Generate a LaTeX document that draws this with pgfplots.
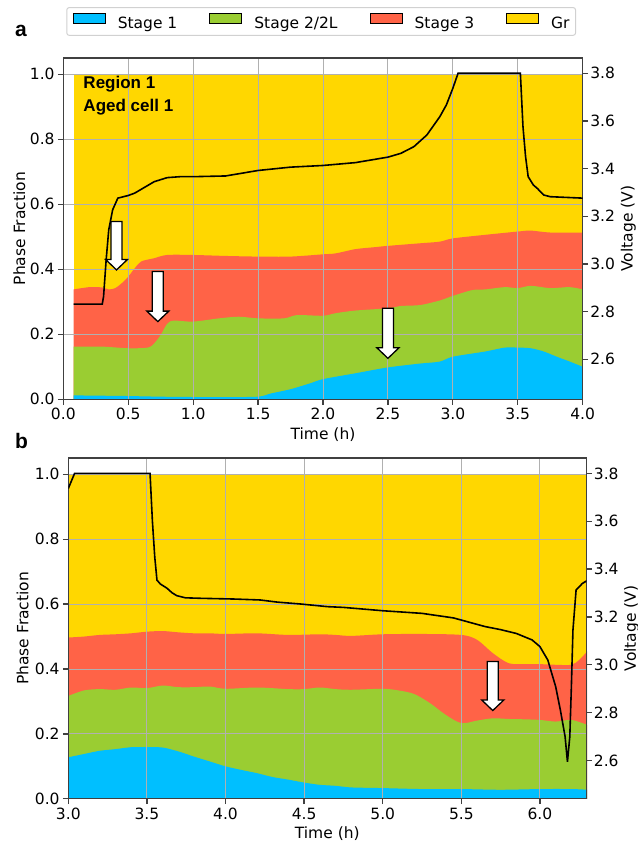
\documentclass[border=0pt]{standalone}
\usepackage{fontspec}
\setmainfont{DejaVu Sans}
\newfontfamily\headfont{Liberation Sans}
\usepackage{pgfplots}
\pgfplotsset{compat=1.18}
\usepackage{pgfplotstable}

\definecolor{cSone}{HTML}{00BFFF}
\definecolor{cStwo}{HTML}{9ACD32}
\definecolor{cSthree}{HTML}{FF6347}
\definecolor{cGr}{HTML}{FFD700}
\definecolor{spine}{HTML}{404040}
\definecolor{gridc}{HTML}{B0B0B0}

\newcommand\mpl{\fontsize{15.5bp}{18.6bp}\selectfont}

% ---------- (a) cumulative phase-fraction boundaries ----------
\pgfplotstableread{
t f
0.08 0.012
0.30 0.011
0.50 0.010
0.75 0.008
1.00 0.007
1.25 0.007
1.50 0.008
1.60 0.018
1.75 0.031
1.90 0.049
2.00 0.062
2.25 0.080
2.50 0.098
2.75 0.110
2.90 0.116
3.00 0.131
3.25 0.147
3.40 0.159
3.50 0.159
3.60 0.157
3.70 0.147
3.80 0.131
3.90 0.116
4.00 0.100
}\sOneA
\pgfplotstableread{
t f
0.08 0.162
0.30 0.162
0.50 0.157
0.65 0.159
0.70 0.172
0.75 0.198
0.80 0.232
0.85 0.242
1.00 0.239
1.20 0.249
1.35 0.254
1.50 0.249
1.70 0.249
1.80 0.259
2.00 0.257
2.10 0.265
2.25 0.273
2.50 0.280
2.60 0.287
2.75 0.290
2.90 0.304
3.00 0.318
3.15 0.336
3.25 0.338
3.40 0.345
3.50 0.342
3.60 0.349
3.75 0.342
3.90 0.345
4.00 0.338
}\sTwoA
\pgfplotstableread{
t f
0.08 0.338
0.20 0.345
0.30 0.344
0.35 0.338
0.40 0.342
0.45 0.357
0.50 0.377
0.55 0.403
0.60 0.424
0.70 0.434
0.80 0.444
1.00 0.444
1.25 0.441
1.50 0.439
1.75 0.439
2.00 0.446
2.10 0.449
2.25 0.462
2.40 0.468
2.50 0.472
2.75 0.480
2.90 0.485
3.00 0.495
3.25 0.506
3.50 0.516
3.60 0.519
3.75 0.513
4.00 0.513
}\sThreeA
\pgfplotstableread{
t v
0.08 2.831
0.30 2.831
0.31 2.863
0.33 3.017
0.35 3.143
0.38 3.227
0.42 3.276
0.50 3.287
0.55 3.297
0.60 3.313
0.70 3.345
0.80 3.362
0.90 3.366
1.00 3.366
1.25 3.369
1.50 3.392
1.75 3.406
2.00 3.413
2.25 3.425
2.50 3.448
2.60 3.464
2.70 3.492
2.80 3.541
2.90 3.618
2.95 3.667
3.00 3.737
3.04 3.800
3.52 3.800
3.54 3.576
3.56 3.450
3.58 3.366
3.62 3.331
3.65 3.317
3.70 3.289
3.75 3.282
4.00 3.276
}\voltA

% ---------- (b) cumulative phase-fraction boundaries ----------
\pgfplotstableread{
t f
3.00 0.128
3.10 0.138
3.20 0.148
3.30 0.153
3.40 0.159
3.50 0.159
3.60 0.158
3.70 0.146
3.80 0.130
3.90 0.115
4.00 0.100
4.10 0.089
4.20 0.079
4.30 0.067
4.40 0.059
4.50 0.050
4.60 0.043
4.70 0.040
4.80 0.035
5.00 0.033
5.25 0.030
5.50 0.030
5.70 0.028
5.80 0.028
6.00 0.030
6.20 0.030
6.30 0.028
}\sOneB
\pgfplotstableread{
t f
3.00 0.317
3.10 0.334
3.20 0.338
3.30 0.336
3.40 0.343
3.50 0.341
3.60 0.349
3.70 0.344
3.80 0.344
3.90 0.346
4.00 0.339
4.20 0.343
4.40 0.338
4.50 0.338
4.60 0.343
4.70 0.338
4.80 0.336
5.00 0.339
5.10 0.334
5.20 0.323
5.30 0.295
5.40 0.259
5.50 0.233
5.60 0.241
5.70 0.248
5.80 0.246
5.90 0.245
6.00 0.243
6.10 0.238
6.20 0.243
6.30 0.228
}\sTwoB
\pgfplotstableread{
t f
3.00 0.497
3.10 0.500
3.20 0.505
3.30 0.507
3.40 0.510
3.50 0.515
3.60 0.517
3.70 0.513
3.80 0.510
3.90 0.510
4.00 0.508
4.20 0.510
4.40 0.505
4.60 0.507
4.70 0.505
4.80 0.502
5.00 0.507
5.25 0.508
5.50 0.505
5.60 0.490
5.70 0.449
5.80 0.418
5.90 0.415
6.00 0.415
6.10 0.413
6.20 0.413
6.25 0.428
6.30 0.454
}\sThreeB
\pgfplotstableread{
t v
3.000 3.737
3.040 3.800
3.520 3.800
3.535 3.600
3.550 3.450
3.564 3.354
3.585 3.338
3.628 3.320
3.660 3.301
3.690 3.289
3.745 3.280
3.840 3.278
4.050 3.275
4.220 3.271
4.330 3.262
4.480 3.254
4.650 3.243
4.750 3.240
5.000 3.226
5.250 3.215
5.450 3.196
5.550 3.178
5.650 3.160
5.750 3.147
5.850 3.131
5.950 3.104
6.000 3.076
6.050 3.020
6.100 2.909
6.130 2.811
6.160 2.700
6.175 2.595
6.190 2.700
6.200 2.909
6.210 3.145
6.230 3.313
6.270 3.340
6.300 3.352
}\voltB

% white block arrow pointing down to (x, y) in axis units; #3 = shaft length
\newcommand\blockarrow[3]{%
  \draw[fill=white, draw=black, line width=1.3bp, line join=miter]
    (axis cs:#1,#2) -- ++(11bp,10.5bp) -- ++(-5.5bp,0bp) -- ++(0bp,#3)
    -- ++(-11bp,0bp) -- ++(0bp,-#3) -- ++(-5.5bp,0bp) -- cycle;}

\pgfplotsset{
  base/.style={
    scale only axis, anchor=south west,
    axis line style={line width=1.24bp, spine},
    every tick/.style={line width=1.24bp, spine},
    tick align=outside, major tick length=5.4bp,
    tick label style={font=\mpl},
    label style={font=\mpl},
    xticklabel style={anchor=north, inner sep=0pt, yshift=-3.6bp},
    /pgf/number format/fixed, /pgf/number format/fixed zerofill,
    /pgf/number format/precision=1, /pgf/number format/assume math mode=true,
  },
  phase/.style={
    base, set layers,
    xmajorgrids, ymajorgrids, grid style={line width=1bp, gridc},
    xtick pos=bottom, ytick pos=left,
    ymin=0, ymax=1.05, ytick={0,0.2,0.4,0.6,0.8,1.0},
    yticklabel style={anchor=east, inner sep=0pt, xshift=-3.1bp},
    ylabel={Phase Fraction}, xlabel={Time (h)},
    ylabel style={anchor=base, inner sep=0pt},
    xlabel style={anchor=base, inner sep=0pt},
  },
  volt/.style={
    base, axis x line=none, axis y line*=right,
    ytick={2.6,2.8,3.0,3.2,3.4,3.6,3.8},
    yticklabel style={anchor=west, inner sep=0pt, xshift=2bp},
    ylabel={Voltage (V)},
    ylabel style={anchor=base, inner sep=0pt},
  },
  area/.style={on layer=axis background, draw=none, fill=#1},
}

\begin{document}
\begin{tikzpicture}[x=1bp,y=1bp]

% ================= panel a =================
\begin{axis}[phase, at={(63.3bp,443.7bp)}, width=519.4bp, height=341.3bp,
  xmin=0, xmax=4, xtick={0,0.5,...,4},
  ylabel style={at={(axis description cs:-0.0737,0.5)}},
  xlabel style={at={(axis description cs:0.5,-0.1172)}},
  legend columns=4,
  legend style={at={(axis description cs:0.4965,1.107)}, anchor=center,
    draw=black!18, line width=1bp, rounded corners=2.5bp, fill=white,
    font=\mpl, inner xsep=6bp, inner ysep=5bp, nodes={inner sep=0pt},
    /tikz/every odd column/.style={column sep=12bp},
    /tikz/every even column/.style={column sep=32bp}},
  legend image code/.code={\fill[#1, sharp corners] (0bp,0.8bp) rectangle (32bp,10.8bp);},
]
\addlegendimage{fill=cSone}\addlegendentry{Stage 1}
\addlegendimage{fill=cStwo}\addlegendentry{Stage 2/2L}
\addlegendimage{fill=cSthree}\addlegendentry{Stage 3}
\addlegendimage{fill=cGr}\addlegendentry{Gr}
\addplot[area=cGr] coordinates {(0.08,1) (4,1)} \closedcycle;
\addplot[area=cSthree, smooth] table {\sThreeA} \closedcycle;
\addplot[area=cStwo, smooth] table {\sTwoA} \closedcycle;
\addplot[area=cSone, smooth] table {\sOneA} \closedcycle;
\blockarrow{0.41}{0.398}{38bp}
\blockarrow{0.728}{0.239}{39.5bp}
\blockarrow{2.5}{0.126}{39.5bp}
\end{axis}
\begin{axis}[volt, at={(63.3bp,443.7bp)}, width=519.4bp, height=341.3bp,
  xmin=0, xmax=4, ymin=2.432, ymax=3.864,
  ylabel style={at={(axis description cs:1.096,0.5)}}]
\addplot[black, line width=1.6bp] table {\voltA};
\end{axis}

% ================= panel b =================
\begin{axis}[phase, at={(68.3bp,44.2bp)}, width=518bp, height=340.7bp,
  xmin=3, xmax=6.295, xtick={3,3.5,...,6},
  ylabel style={at={(axis description cs:-0.0772,0.5)}},
  xlabel style={at={(axis description cs:0.5,-0.1165)}}]
\addplot[area=cGr] coordinates {(3,1) (6.3,1)} \closedcycle;
\addplot[area=cSthree, smooth] table {\sThreeB} \closedcycle;
\addplot[area=cStwo, smooth] table {\sTwoB} \closedcycle;
\addplot[area=cSone, smooth] table {\sOneB} \closedcycle;
\blockarrow{5.70}{0.272}{38.5bp}
\end{axis}
\begin{axis}[volt, at={(68.3bp,44.2bp)}, width=518bp, height=340.7bp,
  xmin=3, xmax=6.295, ymin=2.440, ymax=3.864,
  ylabel style={at={(axis description cs:1.0955,0.5)}}]
\addplot[black, line width=1.6bp] table {\voltB};
\end{axis}

% panel tags and annotation
\node[anchor=base west, inner sep=0pt, font=\headfont\bfseries\fontsize{21bp}{24bp}\selectfont] at (15,806.3) {a};
\node[anchor=base west, inner sep=0pt, font=\headfont\bfseries\fontsize{21bp}{24bp}\selectfont] at (15,394.7) {b};
\node[anchor=base west, inner sep=0pt, font=\headfont\bfseries\fontsize{17bp}{20bp}\selectfont] at (83.3,754) {Region 1};
\node[anchor=base west, inner sep=0pt, font=\headfont\bfseries\fontsize{17bp}{20bp}\selectfont] at (83.3,731.5) {Aged cell 1};

\pgfresetboundingbox
\useasboundingbox (0,0) rectangle (638,843);
\end{tikzpicture}
\end{document}
